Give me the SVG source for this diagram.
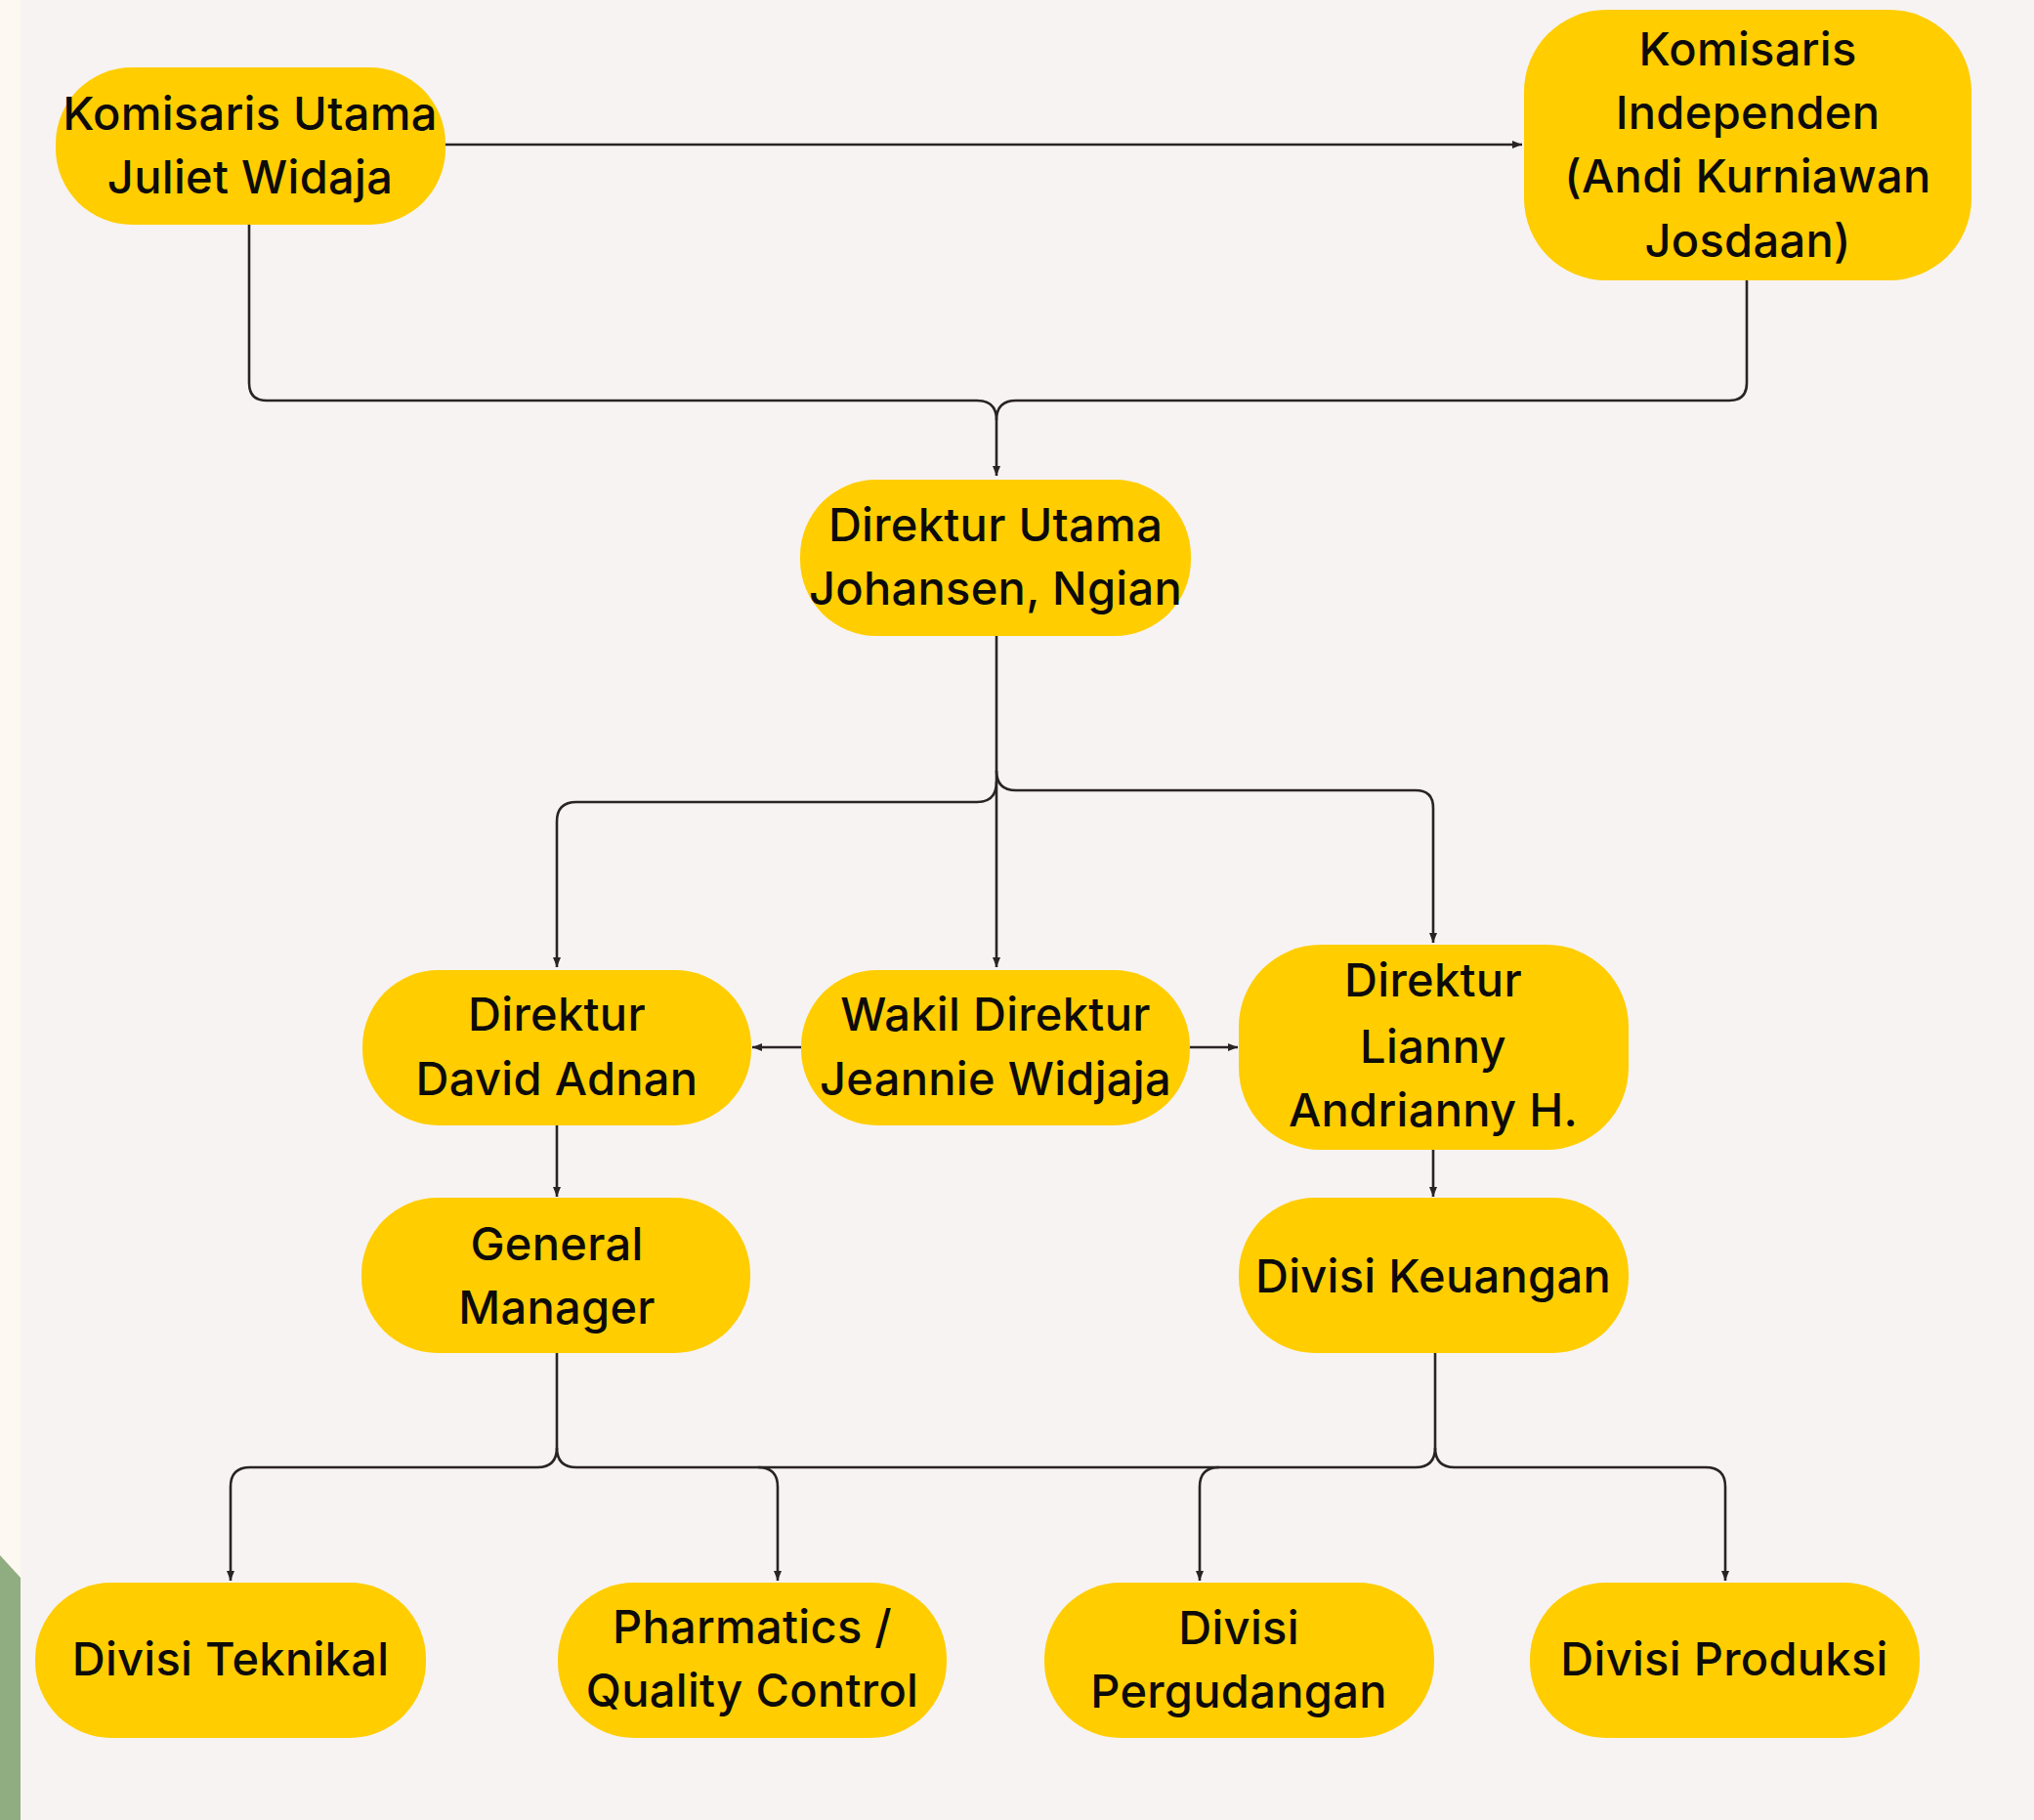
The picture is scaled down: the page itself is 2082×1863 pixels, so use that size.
<svg xmlns="http://www.w3.org/2000/svg" width="2082" height="1863" viewBox="0 0 2082 1863">
<defs>
<style>
.node{fill:#FFCD00;}
.t{font-family:Inter,"Liberation Sans",sans-serif;font-weight:550;font-size:47px;letter-spacing:0.3px;fill:#0d0b0a;text-anchor:middle;}
.c{fill:none;stroke:#2a2326;stroke-width:2.6;}
</style>
<marker id="ah" viewBox="0 0 10 10" refX="10" refY="5" markerWidth="10" markerHeight="10" markerUnits="userSpaceOnUse" orient="auto">
<path d="M0,1 L10,5 L0,9 Z" fill="#2a2326"/>
</marker>
</defs>
<rect x="0" y="0" width="2082" height="1863" fill="#F7F3F2"/>
<rect x="0" y="0" width="21" height="1863" fill="#FDF8F2"/>
<polygon points="0,1592 21,1615 21,1863 0,1863" fill="#8FAD80"/>

<g id="connectors">
<path class="c" d="M456,148 L1558,148" marker-end="url(#ah)"/>
<path class="c" d="M255,230 L255,392 Q255,410 273,410 L1000,410 Q1020,410 1020,430 L1020,487" marker-end="url(#ah)"/>
<path class="c" d="M1788,287 L1788,392 Q1788,410 1770,410 L1040,410 Q1020,410 1020,430"/>
<path class="c" d="M1020,651 L1020,990" marker-end="url(#ah)"/>
<path class="c" d="M1020,800 Q1020,821 1000,821 L590,821 Q570,821 570,841 L570,990" marker-end="url(#ah)"/>
<path class="c" d="M1020,789 Q1020,809 1040,809 L1449,809 Q1467,809 1467,827 L1467,965" marker-end="url(#ah)"/>
<path class="c" d="M820,1072 L770,1072" marker-end="url(#ah)"/>
<path class="c" d="M1218,1072 L1267,1072" marker-end="url(#ah)"/>
<path class="c" d="M570,1152 L570,1225" marker-end="url(#ah)"/>
<path class="c" d="M1467,1177 L1467,1225" marker-end="url(#ah)"/>
<path class="c" d="M570,1385 L570,1482 Q570,1502 550,1502 L256,1502 Q236,1502 236,1522 L236,1618" marker-end="url(#ah)"/>
<path class="c" d="M570,1482 Q570,1502 590,1502 L776,1502 Q796,1502 796,1522 L796,1618" marker-end="url(#ah)"/>
<path class="c" d="M1469,1385 L1469,1482 Q1469,1502 1449,1502 L776,1502"/>
<path class="c" d="M1248,1502 Q1228,1502 1228,1522 L1228,1618" marker-end="url(#ah)"/>
<path class="c" d="M1469,1482 Q1469,1502 1489,1502 L1746,1502 Q1766,1502 1766,1522 L1766,1618" marker-end="url(#ah)"/>
</g>

<g id="komisaris-utama">
<rect class="node" x="57" y="69" width="399" height="161" rx="78"/>
<text class="t" x="256" y="133">Komisaris Utama</text>
<text class="t" x="256" y="198">Juliet Widaja</text>
</g>
<g id="komisaris-independen">
<rect class="node" x="1560" y="10" width="458" height="277" rx="84"/>
<text class="t" x="1789" y="67">Komisaris</text>
<text class="t" x="1789" y="132">Independen</text>
<text class="t" x="1789" y="197">(Andi Kurniawan</text>
<text class="t" x="1789" y="263">Josdaan)</text>
</g>
<g id="direktur-utama">
<rect class="node" x="819" y="491" width="400" height="160" rx="78"/>
<text class="t" x="1019" y="554">Direktur Utama</text>
<text class="t" x="1019" y="619">Johansen, Ngian</text>
</g>
<g id="direktur-david">
<rect class="node" x="371" y="993" width="398" height="159" rx="78"/>
<text class="t" x="570" y="1055">Direktur</text>
<text class="t" x="570" y="1121">David Adnan</text>
</g>
<g id="wakil-direktur">
<rect class="node" x="820" y="993" width="398" height="159" rx="78"/>
<text class="t" x="1019" y="1055">Wakil Direktur</text>
<text class="t" x="1019" y="1121">Jeannie Widjaja</text>
</g>
<g id="direktur-lianny">
<rect class="node" x="1268" y="967" width="399" height="210" rx="84"/>
<text class="t" x="1467" y="1020">Direktur</text>
<text class="t" x="1467" y="1088">Lianny</text>
<text class="t" x="1467" y="1153">Andrianny H.</text>
</g>
<g id="general-manager">
<rect class="node" x="370" y="1226" width="398" height="159" rx="78"/>
<text class="t" x="570" y="1290">General</text>
<text class="t" x="570" y="1355">Manager</text>
</g>
<g id="divisi-keuangan">
<rect class="node" x="1268" y="1226" width="399" height="159" rx="78"/>
<text class="t" x="1467" y="1323">Divisi Keuangan</text>
</g>
<g id="divisi-teknikal">
<rect class="node" x="36" y="1620" width="400" height="159" rx="78"/>
<text class="t" x="236" y="1715">Divisi Teknikal</text>
</g>
<g id="pharmatics">
<rect class="node" x="571" y="1620" width="398" height="159" rx="78"/>
<text class="t" x="770" y="1682">Pharmatics /</text>
<text class="t" x="770" y="1747">Quality Control</text>
</g>
<g id="divisi-pergudangan">
<rect class="node" x="1069" y="1620" width="399" height="159" rx="78"/>
<text class="t" x="1268" y="1683">Divisi</text>
<text class="t" x="1268" y="1748">Pergudangan</text>
</g>
<g id="divisi-produksi">
<rect class="node" x="1566" y="1620" width="399" height="159" rx="78"/>
<text class="t" x="1765" y="1715">Divisi Produksi</text>
</g>
</svg>
